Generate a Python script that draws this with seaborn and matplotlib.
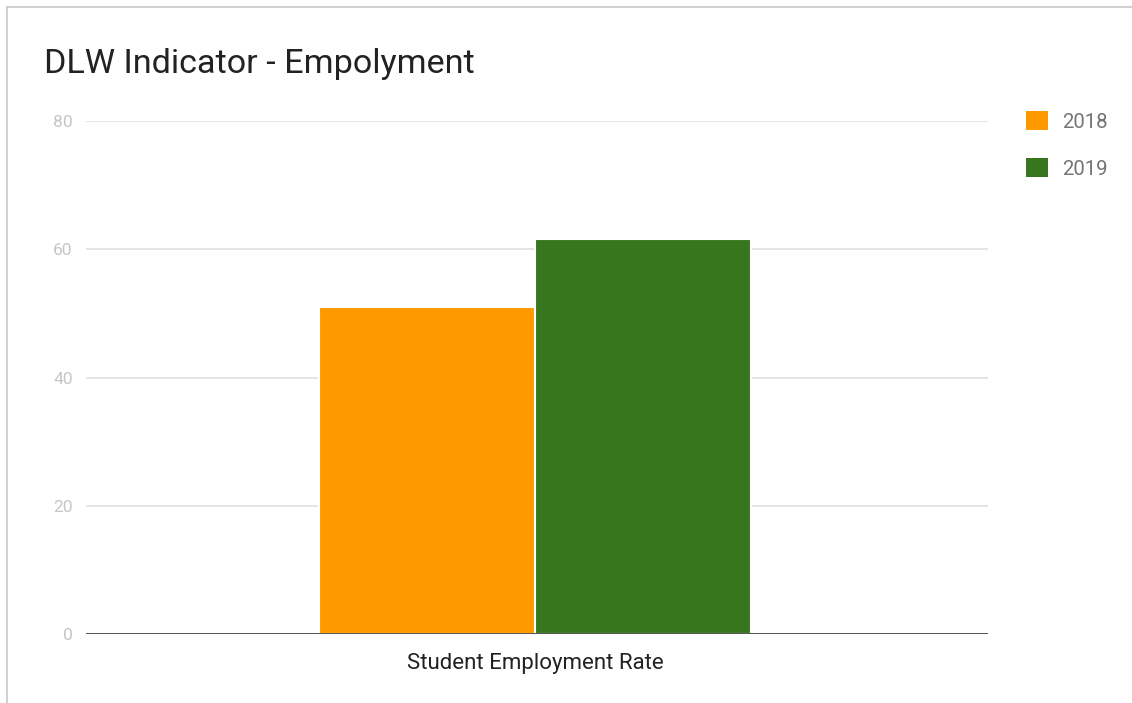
import matplotlib
matplotlib.use("Agg")
import matplotlib.pyplot as plt
import seaborn as sns
import pandas as pd
from matplotlib.lines import Line2D
from matplotlib.patches import Patch

categories = ["Student Employment Rate"]
years = ["2018", "2019"]
values_2018 = [51.0]
values_2019 = [61.6]
yticks = [0, 20, 40, 60, 80]
colors = {"2018": "#ff9900", "2019": "#38761d"}

rows = []
for c, v in zip(categories, values_2018):
    rows.append({"category": c, "year": "2018", "value": v})
for c, v in zip(categories, values_2019):
    rows.append({"category": c, "year": "2019", "value": v})
df = pd.DataFrame(rows)

sns.set_theme(style="white")
plt.rcParams["font.family"] = ["Roboto", "DejaVu Sans"]

W, H = 1132, 703
fig = plt.figure(figsize=(W / 100, H / 100), dpi=100)
ax = fig.add_axes([86 / W, 1 - 634 / H, (988 - 86) / W, (634 - 121) / H])

sns.barplot(data=df, x="category", y="value", hue="year", palette=colors,
            hue_order=years, width=0.48, ax=ax, edgecolor="white",
            linewidth=1.5, legend=False, errorbar=None, saturation=1, zorder=3)

ax.set_xlim(-(535 - 86) / 902, (988 - 535) / 902)
ax.set_ylim(0, 80)
ax.set_yticks(yticks)
ax.set_yticklabels([str(t) for t in yticks], color="#c6c6c6", fontsize=12.5)
ax.tick_params(axis="y", length=0, pad=9.5)
ax.tick_params(axis="x", length=0, pad=13.5, labelsize=16, labelcolor="#222222")
ax.set_xlabel("")
ax.set_ylabel("")
for s in ax.spines.values():
    s.set_visible(False)
ax.grid(axis="y", color="#e0e0e0", linewidth=1.2, zorder=0)
ax.axhline(0, color="#444444", linewidth=2, zorder=4)

handles = [Patch(facecolor=colors[y], edgecolor="none") for y in years]
ax.legend(handles, years, loc="upper left",
          bbox_to_anchor=(1026 / W, 1 - 111 / H), bbox_transform=fig.transFigure,
          frameon=False, fontsize=14.7, handlelength=1.07, handleheight=1.07,
          handletextpad=0.72, labelspacing=1.3, labelcolor="#757575",
          borderpad=0, borderaxespad=0)

fig.text(44 / W, 1 - 64 / H, "DLW Indicator - Empolyment", fontsize=24.6,
         color="#222222", va="center", ha="left")

# outer border lines (top and left)
fig.add_artist(Line2D([7 / W, 1], [1 - 7 / H, 1 - 7 / H], transform=fig.transFigure,
                      color="#c8c8c8", linewidth=1.2))
fig.add_artist(Line2D([7 / W, 7 / W], [0, 1 - 7 / H], transform=fig.transFigure,
                      color="#c8c8c8", linewidth=1.2))

fig.savefig("out.png", dpi=100, facecolor="white")
